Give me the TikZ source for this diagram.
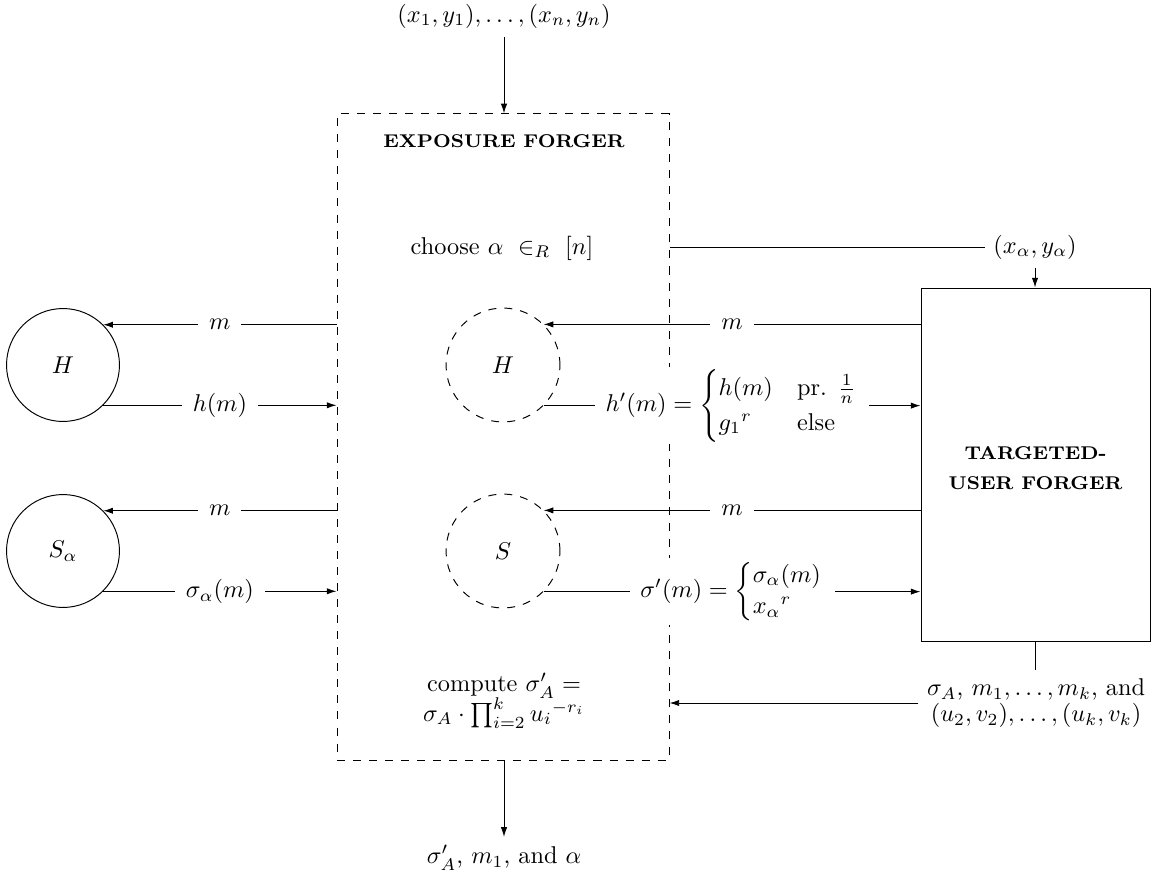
\documentclass[tikz,border=0pt]{standalone}
\usepackage{amsmath}
\usepackage{graphicx}
\usepackage{fontspec}
\usetikzlibrary{arrows.meta}
\newcommand\ttl[1]{\scalebox{1.05}[1]{\fontsize{7.6}{8.6}\selectfont\bfseries\addfontfeature{LetterSpace=7}#1}}
\newcommand\mycases[3]{\left\{\def\arraystretch{#1}\begin{array}{#2}#3\end{array}\right.}
\begin{document}
\begin{tikzpicture}[x=0.4117pt,y=-0.4117pt,
  ebox/.style={draw, dash pattern=on 3.3pt off 3.3pt, minimum width=136.7pt, minimum height=266pt, inner sep=0pt},
  tbox/.style={draw, minimum width=94.3pt, minimum height=145.7pt, inner sep=0pt},
  circ/.style={draw, circle, minimum size=46.5pt, inner sep=0pt},
  dcirc/.style={circ, minimum size=46.9pt, dash pattern=on 3.3pt off 3.3pt},
  lbl/.style={fill=white, inner xsep=4.5pt, inner ysep=1pt},
  arr/.style={-{Latex[length=4pt,width=2.6pt]}}]
\useasboundingbox (0,0) rectangle (1153,878);

\node[ebox] (E) at (503,437) {};
\node (Etitle) at (504,141) {\ttl{EXPOSURE FORGER}};
\node (choose) at (502,248) {choose $\alpha\ \in_R\ [n]$};
\node[circ] (H) at (63,365) {$H$};
\node[circ] (S) at (63,551) {$S_\alpha$};
\node[dcirc] (H2) at (503,365) {$H$};
\node[dcirc] (S2) at (503,551) {$S$};
\node[tbox] (T) at (1035.5,465) {};
\node[align=center] (Ttitle) at (1035.5,468) {\ttl{TARGETED-}\\[0.5pt]\ttl{USER FORGER}};
\node (top) at (504,16) {$(x_1,y_1),\ldots,(x_n,y_n)$};
\node (xa) at (1035,247) {$(x_\alpha,y_\alpha)$};
\node[align=center] (comp) at (504,701) {compute $\sigma'_A =$\\[-1.5pt] $\sigma_A\cdot\prod_{i=2}^k {u_i}^{-r_i}$};
\node[align=center] (sig) at (1036,703) {$\sigma_A$, $m_1,\ldots,m_k$, and\\[-1.3pt] $(u_2,v_2),\ldots,(u_k,v_k)$};
\node (out) at (504,858) {$\sigma'_A$, $m_1$, and $\alpha$};

\draw[arr] (top.south) -- (top.south |- E.north);
\draw[arr] (out.north |- E.south) -- (out.north);
\draw (xa.west -| E.east) -- (xa.west);
\draw[arr] (xa.south) -- (xa.south |- T.north);
\draw (T.south) -- (T.south |- sig.north);
\draw[arr] (sig.west) -- (sig.west -| E.east);

\draw[arr] (E.west |- H.north east) -- node[lbl]{$m$} (H.north east);
\draw[arr] (H.south east) -- node[lbl]{$h(m)$} (E.west |- H.south east);
\draw[arr] (E.west |- S.north east) -- node[lbl]{$m$} (S.north east);
\draw[arr] (S.south east) -- node[lbl]{$\sigma_\alpha(m)$} (E.west |- S.south east);

\draw[arr] (T.west |- H2.north east) -- node[lbl]{$m$} (H2.north east);
\draw[arr] (H2.south east) -- node[lbl]{$h'(m) = \mycases{1.2}{@{}l@{\quad}l@{}}{h(m) & \text{pr. } \frac{1}{n}\\ {g_1}^r & \text{else}}$} (T.west |- H2.south east);
\draw[arr] (T.west |- S2.north east) -- node[lbl]{$m$} (S2.north east);
\draw[arr] (S2.south east) -- node[lbl]{$\sigma'(m) = \mycases{1.07}{@{}l@{}}{\sigma_\alpha(m)\\ {x_\alpha}^r}$} (T.west |- S2.south east);
\end{tikzpicture}
\end{document}
